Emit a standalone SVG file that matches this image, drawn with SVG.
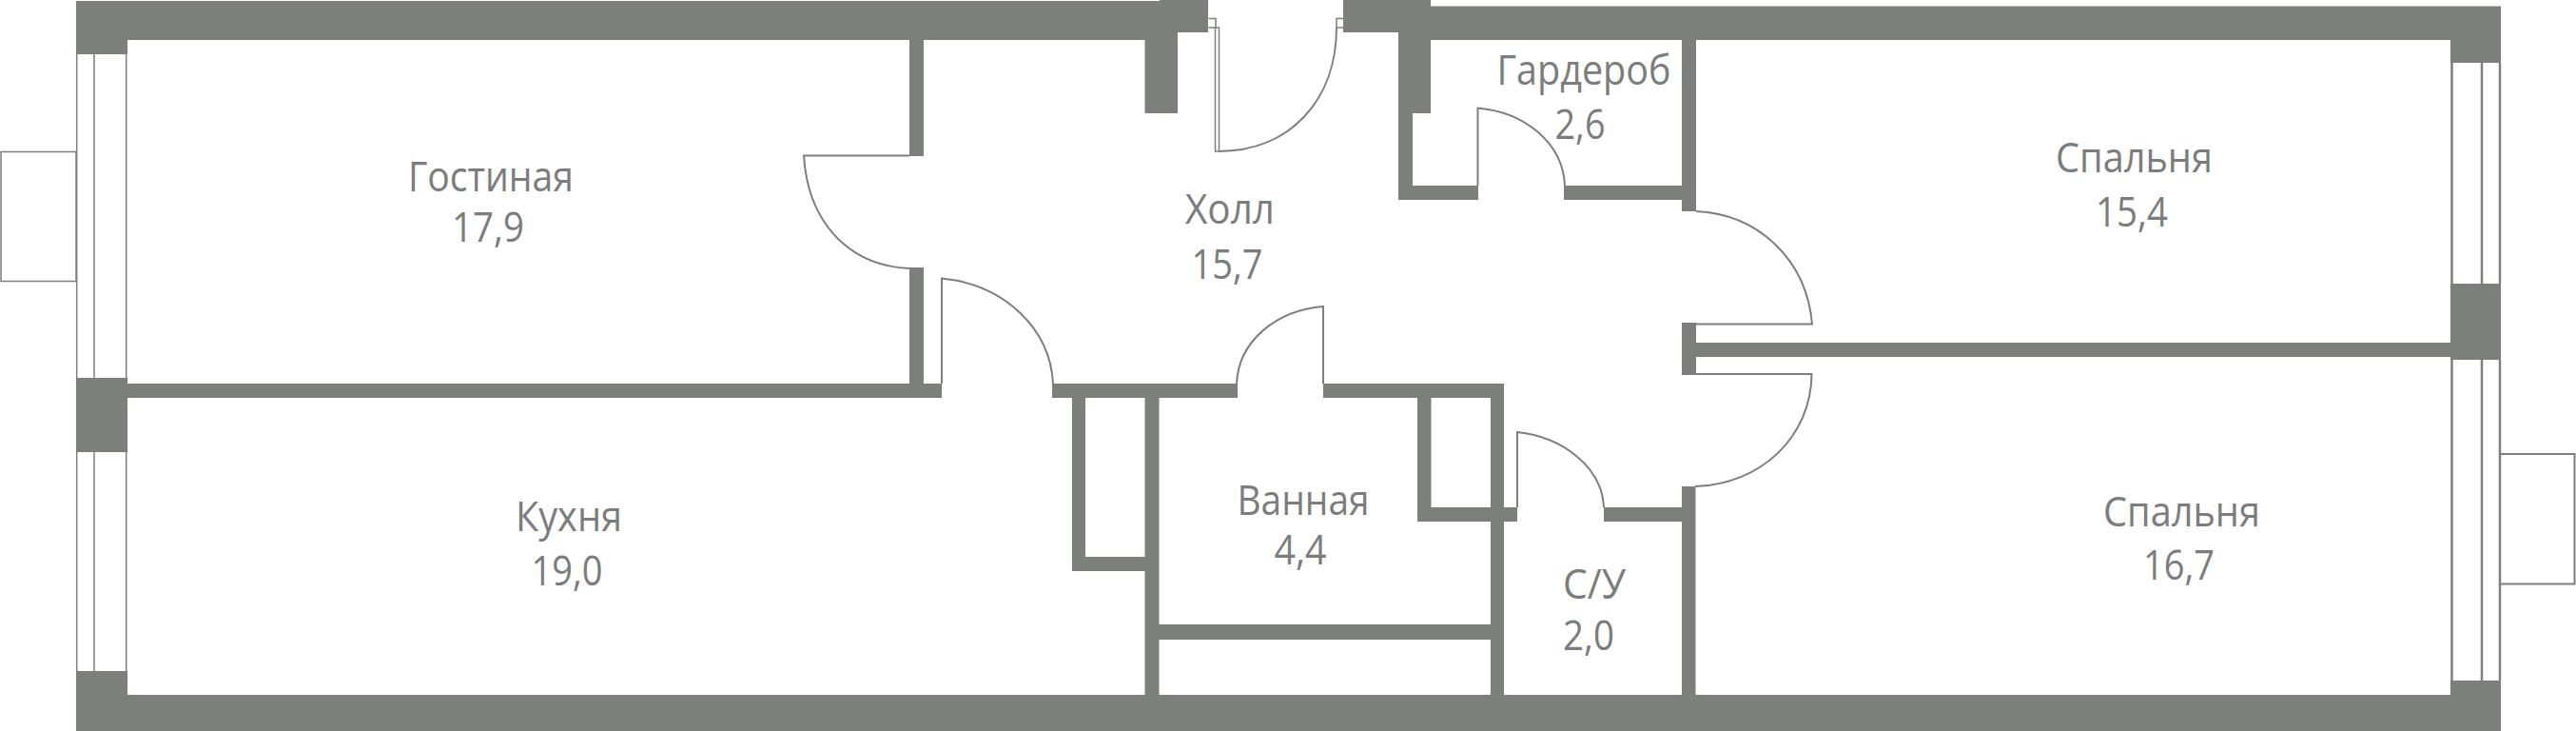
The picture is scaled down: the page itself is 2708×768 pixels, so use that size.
<svg xmlns="http://www.w3.org/2000/svg" width="2708" height="768" viewBox="0 0 2708 768">
<style>
.w{fill:#7d7f7d}
.l{fill:none;stroke:#7d7f7d;stroke-width:2}
.t{fill:none;stroke:#7d7f7d;stroke-width:1.5}
.r{fill:none;stroke:#7d7f7d;stroke-width:2.5}
text{font-family:"Open Sans","Noto Sans","Liberation Sans",sans-serif;font-size:43px;fill:#7b7d7d;text-anchor:middle}
</style>
<rect width="2708" height="768" fill="#fff"/>
<g id="walls">
<path class="w" d="M80 1H1219V0H1270V34H1238V119H1203.500V42H134V57H80Z"/>
<path class="w" d="M1412 0H1504V6.500H2629V66H2576V42H1783V222H1768V42H1504V119H1485V195H1554V210H1470V34H1412Z"/>
<rect class="w" x="80" y="397" width="54" height="78"/>
<rect class="w" x="134" y="403" width="856" height="15"/>
<rect class="w" x="956" y="42" width="15" height="122"/>
<rect class="w" x="956" y="281" width="15" height="130"/>
<path class="w" d="M80 705H134V730H2576V715H2629V768H80Z"/>
<rect class="w" x="1106" y="403" width="195" height="15"/>
<rect class="w" x="1391" y="403" width="190" height="15"/>
<rect class="w" x="1567" y="403" width="14" height="327"/>
<rect class="w" x="1490" y="418" width="14.500" height="130"/>
<rect class="w" x="1490" y="533" width="105" height="15"/>
<path class="w" d="M1127 418H1141V585H1204V600H1127Z"/>
<rect class="w" x="1203.500" y="418" width="15" height="312"/>
<rect class="w" x="1218" y="656" width="350" height="16"/>
<rect class="w" x="1686" y="533" width="83" height="15"/>
<rect class="w" x="1768" y="511" width="14.500" height="219"/>
<rect class="w" x="1644" y="195" width="125" height="15"/>
<rect class="w" x="1768" y="339" width="15" height="55"/>
<rect class="w" x="1783" y="360" width="793" height="15"/>
<rect class="w" x="2576" y="298" width="53" height="80"/>
</g>
<g id="windows">
<path class="t" d="M80.700 57V397M99 57V397M132.700 57V397M80.700 475V705M99 475V705M132.700 475V705"/>
<path class="t" d="M1 159.500H80V295.500H1Z"/>
<path class="r" d="M2577.500 66V298M2609 66V298M2628 66V298M2577.500 378V715M2609 378V715M2628 378V715"/>
<path class="l" d="M2629 477H2706.500V613.500H2629"/>
</g>
<g id="doors">
<path class="t" d="M1270.500 19.500H1278V29H1270.500M1412 19.500H1405V29H1412"/>
<path class="t" d="M1277.500 29H1281.500V159H1277.500Z"/>
<path class="l" d="M1281 159C1356 159 1405 105 1405 29"/>
<path class="l" d="M956 163.500H845C849 230 889 279 956 282"/>
<path class="l" d="M990 403V292.500C1056 299 1104 345 1107 403"/>
<path class="l" d="M1391 403V322C1342 326 1302 358 1300 403"/>
<path class="l" d="M1553.500 195V113.500C1603 118 1643 150 1645 195"/>
<path class="l" d="M1595 533V454C1642 459 1684 490 1686 533"/>
<path class="l" d="M1783 222C1848 225 1899 272 1905 340.500H1783"/>
<path class="l" d="M1783 393H1904.500C1904 458 1852 509 1782 511"/>
</g>
<g id="labels">
<g id="room-living"><text x="516" y="201" textLength="174" lengthAdjust="spacingAndGlyphs">Гостиная</text><text x="513" y="254" textLength="76" lengthAdjust="spacingAndGlyphs">17,9</text></g>
<g id="room-kitchen"><text x="598" y="558" textLength="112" lengthAdjust="spacingAndGlyphs">Кухня</text><text x="596" y="615" textLength="75" lengthAdjust="spacingAndGlyphs">19,0</text></g>
<g id="room-hall"><text x="1293" y="235" textLength="94" lengthAdjust="spacingAndGlyphs">Холл</text><text x="1290" y="293" textLength="75" lengthAdjust="spacingAndGlyphs">15,7</text></g>
<g id="room-bath"><text x="1370" y="541" textLength="139" lengthAdjust="spacingAndGlyphs">Ванная</text><text x="1367" y="593" textLength="55" lengthAdjust="spacingAndGlyphs">4,4</text></g>
<g id="room-wc"><text x="1676" y="629" textLength="66" lengthAdjust="spacingAndGlyphs">С/У</text><text x="1670" y="683" textLength="54" lengthAdjust="spacingAndGlyphs">2,0</text></g>
<g id="room-wardrobe"><text x="1665" y="89" textLength="183" lengthAdjust="spacingAndGlyphs">Гардероб</text><text x="1661" y="146" textLength="53" lengthAdjust="spacingAndGlyphs">2,6</text></g>
<g id="room-bedroom-1"><text x="2243.500" y="181" textLength="165" lengthAdjust="spacingAndGlyphs">Спальня</text><text x="2241" y="238" textLength="76" lengthAdjust="spacingAndGlyphs">15,4</text></g>
<g id="room-bedroom-2"><text x="2293.500" y="553" textLength="165" lengthAdjust="spacingAndGlyphs">Спальня</text><text x="2290.500" y="609" textLength="75" lengthAdjust="spacingAndGlyphs">16,7</text></g>
</g>
</svg>
